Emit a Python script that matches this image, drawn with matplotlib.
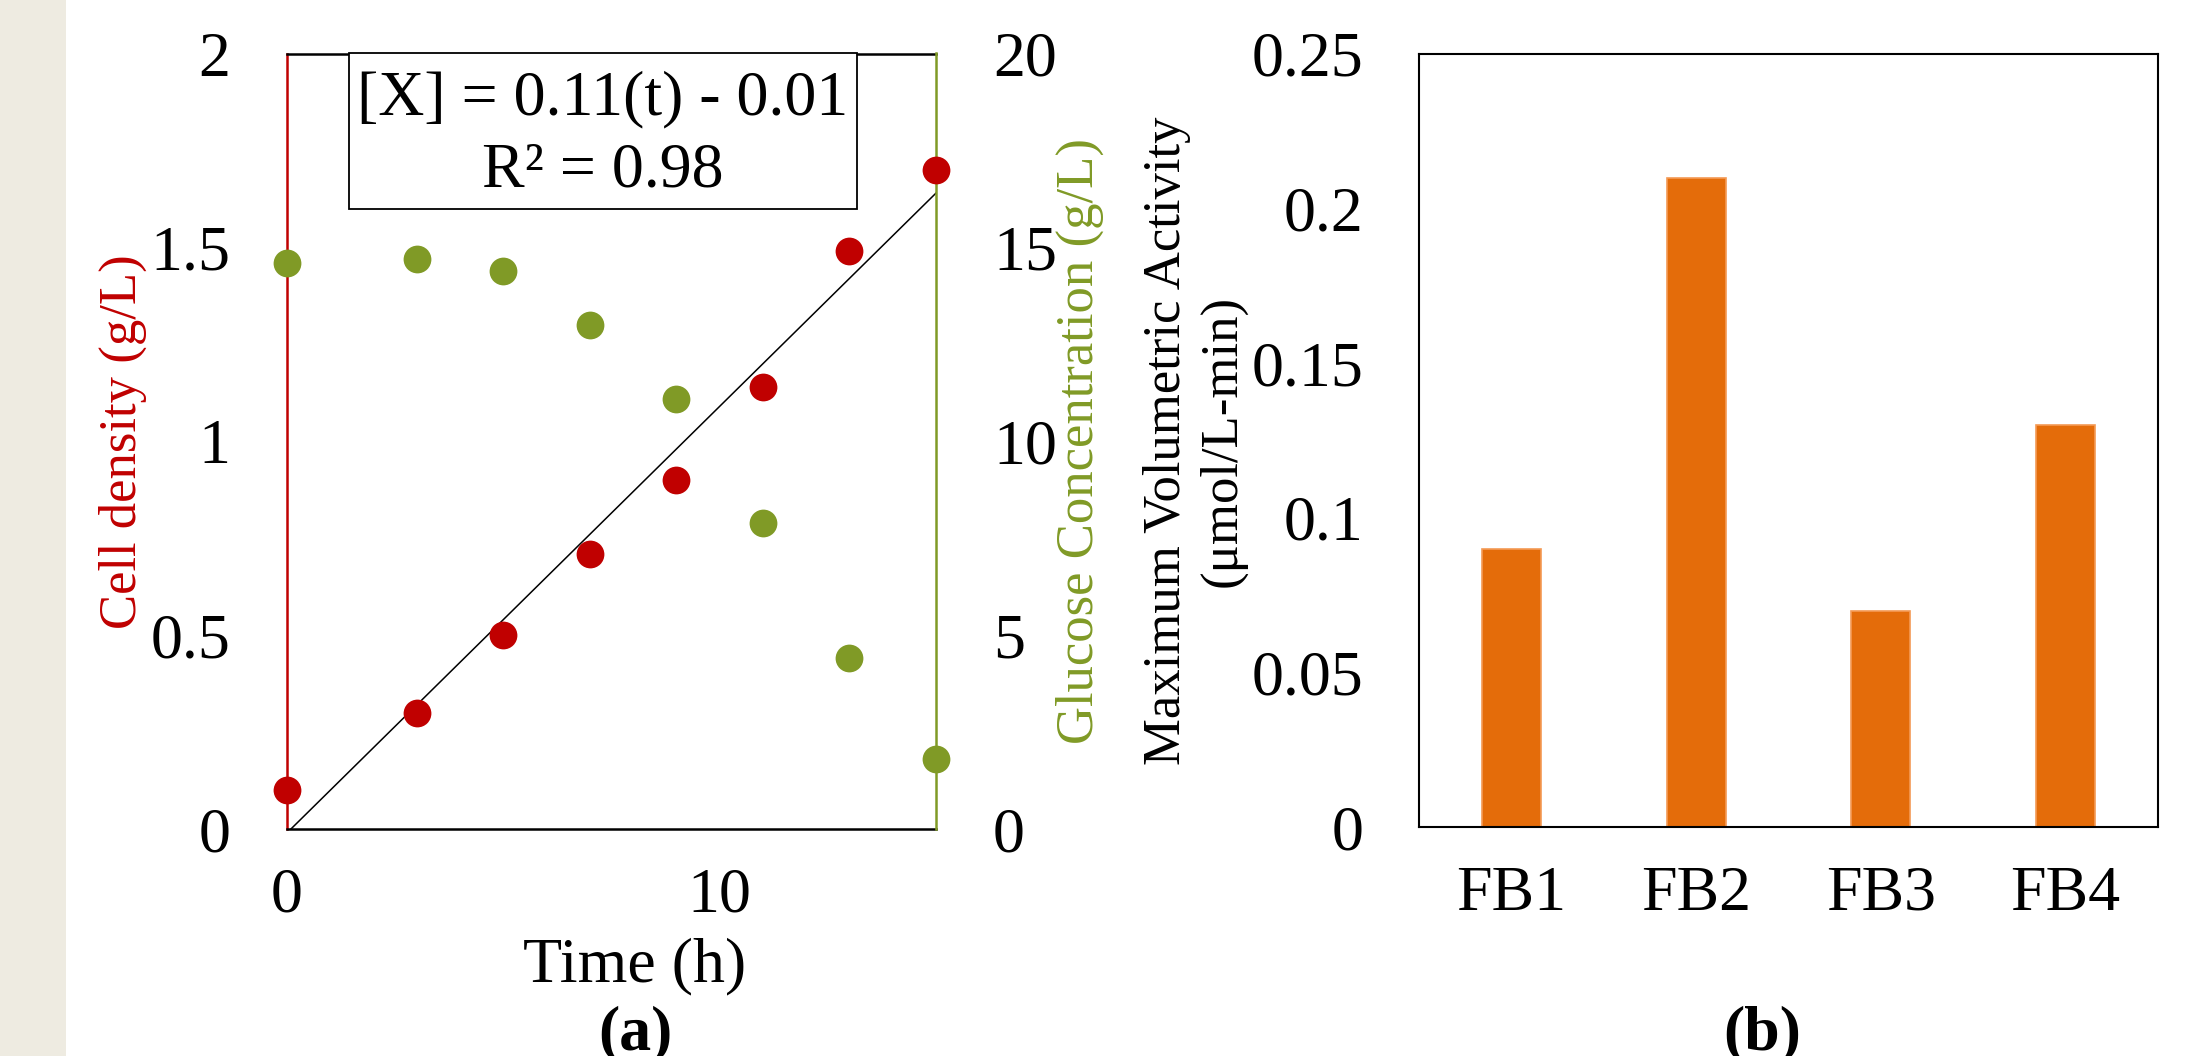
import matplotlib
matplotlib.use("Agg")
import matplotlib.pyplot as plt
from matplotlib.patches import Rectangle
import numpy as np

plt.rcParams['font.family'] = ['Liberation Serif', 'DejaVu Serif']

# ---- data ----
time_h = [0, 3, 5, 7, 9, 11, 13, 15]
cell_density = [0.10, 0.30, 0.50, 0.71, 0.90, 1.14, 1.49, 1.70]
glucose = [14.6, 14.7, 14.4, 13.0, 11.1, 7.9, 4.4, 1.8]
fit_slope = 0.11
fit_intercept = -0.01
fit_text = ["[X] = 0.11(t) - 0.01", "R² = 0.98"]

batches = ["FB1", "FB2", "FB3", "FB4"]
activity = [0.09, 0.21, 0.07, 0.13]

RED = "#C00000"
GREEN = "#809A26"
ORANGE = "#E46C0A"
ORANGE_EDGE = "#F49A55"
GRAY = "#EEEBE1"

W, H = 2196, 1056
fig = plt.figure(figsize=(W / 100, H / 100), dpi=100)
fig.patch.set_facecolor("white")

# grey strip at left
fig.patches.append(Rectangle((0, 0), 66 / W, 1, transform=fig.transFigure,
                             facecolor=GRAY, edgecolor="none", zorder=0))

TICK_FS = 46
LAB_FS = 38
YPAD = 41
XPAD = 28

# ---- panel (a) ----
ax = fig.add_axes([287 / W, 1 - 829 / H, (936 - 287) / W, (829 - 53.5) / H])
ax.set_xlim(0, 15)
ax.set_ylim(0, 2)
ax.set_xticks([0, 10])
ax.set_yticks([0, 0.5, 1, 1.5, 2])
ax.set_yticklabels(["0", "0.5", "1", "1.5", "2"])
ax.tick_params(axis="both", length=0, labelsize=TICK_FS)
ax.tick_params(axis="y", pad=YPAD)
ax.tick_params(axis="x", pad=XPAD)
for s in ["top", "bottom"]:
    ax.spines[s].set_color("black")
    ax.spines[s].set_linewidth(1.8)
ax.spines["left"].set_color(RED)
ax.spines["left"].set_linewidth(1.8)
ax.spines["right"].set_visible(False)

ax2 = ax.twinx()
ax2.set_ylim(0, 20)
ax2.set_yticks([0, 5, 10, 15, 20])
ax2.tick_params(axis="y", length=0, labelsize=TICK_FS, pad=YPAD)
for s in ["top", "bottom", "left"]:
    ax2.spines[s].set_visible(False)
ax2.spines["right"].set_color(GREEN)
ax2.spines["right"].set_linewidth(1.8)

t_fit = np.array([time_h[0], time_h[-1]], dtype=float)
ax.plot(t_fit, fit_slope * t_fit + fit_intercept, color="black", lw=1.1, zorder=3)

ax2.scatter(time_h, glucose, s=400, color=GREEN, zorder=5, clip_on=False, linewidths=0)
ax3 = fig.add_axes(ax.get_position(), sharex=ax, sharey=ax, frameon=False)
ax3.axis("off")
ax3.scatter(time_h, cell_density, s=400, color=RED, zorder=6, clip_on=False, linewidths=0)

ax.set_ylabel("Cell density (g/L)", color=RED, fontsize=LAB_FS)
ax.yaxis.label.set_va("center")
ax.yaxis.set_label_coords((122.8 - 287) / (936 - 287), 0.5)
ax2.set_ylabel("Glucose Concentration (g/L)", color=GREEN, fontsize=LAB_FS, rotation=90)
ax2.yaxis.label.set_va("center")
ax2.yaxis.set_label_coords((1080 - 287) / (936 - 287), 0.5)
ax.set_xlabel("Time (h)", fontsize=TICK_FS)
ax.xaxis.label.set_va("center")
ax.xaxis.set_label_coords((635 - 287) / (936 - 287), (829 - 966) / (829 - 53.5))

# equation box
bx0, bx1 = (348.7 - 287) / 649, (857.3 - 287) / 649
by0 = (829 - 208.8) / 775.5
ax3.add_patch(Rectangle((bx0, by0), bx1 - bx0, 1 - by0, transform=ax3.transAxes,
                        facecolor="white", edgecolor="black", lw=1.3, zorder=7, clip_on=False))
ax3.text((bx0 + bx1) / 2, (829 - 99.7) / 775.5, fit_text[0], transform=ax3.transAxes,
         ha="center", va="center", fontsize=46, zorder=8)
ax3.text((bx0 + bx1) / 2, (829 - 171.7) / 775.5, fit_text[1], transform=ax3.transAxes,
         ha="center", va="center", fontsize=46, zorder=8)

fig.text(635 / W, 1 - 1034 / H, "(a)", ha="center", va="center",
         fontsize=46, fontweight="bold")

# ---- panel (b) ----
bx = fig.add_axes([1419 / W, 1 - 827 / H, (2158 - 1419) / W, (827 - 54) / H])
xpos = np.arange(len(batches))
bx.bar(xpos, activity, width=0.32, color=ORANGE, edgecolor=ORANGE_EDGE, linewidth=1.2, zorder=2)
bx.set_xlim(-0.5, len(batches) - 0.5)
bx.set_ylim(0, 0.25)
bx.set_yticks([0, 0.05, 0.1, 0.15, 0.2, 0.25])
bx.set_yticklabels(["0", "0.05", "0.1", "0.15", "0.2", "0.25"])
bx.set_xticks(xpos)
bx.set_xticklabels(batches)
bx.tick_params(axis="both", length=0, labelsize=TICK_FS)
bx.tick_params(axis="y", pad=40)
bx.tick_params(axis="x", pad=XPAD)
for s in bx.spines.values():
    s.set_color("black")
    s.set_linewidth(1.5)
bx.set_ylabel("Maximum Volumetric Activity\n(μmol/L-min)", fontsize=LAB_FS, linespacing=1.2)
bx.yaxis.label.set_va("center")
bx.yaxis.set_label_coords((1194.5 - 1419) / (2158 - 1419), 0.5)

fig.text(1762 / W, 1 - 1034 / H, "(b)", ha="center", va="center",
         fontsize=46, fontweight="bold")

fig.savefig("out.png", dpi=100, facecolor="white")
